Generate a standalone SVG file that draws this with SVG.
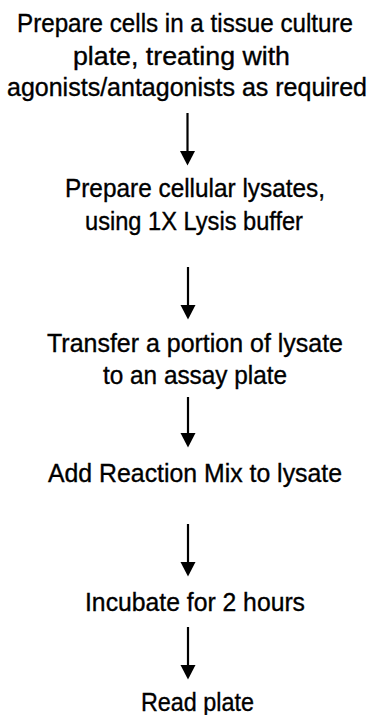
<svg xmlns="http://www.w3.org/2000/svg" width="369" height="715" viewBox="0 0 369 715">
<style>
text{font-family:"Liberation Sans",Arial,sans-serif;font-size:25px;fill:#000;stroke:#000;stroke-width:0.35;text-anchor:middle}
.sh{stroke:#000;stroke-width:2.2;fill:none}
.hd{fill:#000}
</style>
<defs>
<g id="arrowhead"><polygon class="hd" points="-7.5,0 7.5,0 0,14.5"/></g>
</defs>
<rect width="369" height="715" fill="#fff"/>
<g id="step1">
<text x="185" y="31.5" textLength="336" lengthAdjust="spacingAndGlyphs">Prepare cells in a tissue culture</text>
<text x="181.5" y="64.5" textLength="217" lengthAdjust="spacingAndGlyphs">plate, treating with</text>
<text x="187" y="96" textLength="360" lengthAdjust="spacingAndGlyphs">agonists/antagonists as required</text>
</g>
<g id="step2">
<text x="195" y="197" textLength="260" lengthAdjust="spacingAndGlyphs">Prepare cellular lysates,</text>
<text x="194" y="230" textLength="218" lengthAdjust="spacingAndGlyphs">using 1X Lysis buffer</text>
</g>
<g id="step3">
<text x="195" y="352" textLength="296" lengthAdjust="spacingAndGlyphs">Transfer a portion of lysate</text>
<text x="195" y="384" textLength="184" lengthAdjust="spacingAndGlyphs">to an assay plate</text>
</g>
<g id="step4">
<text x="195" y="482" textLength="294" lengthAdjust="spacingAndGlyphs">Add Reaction Mix to lysate</text>
</g>
<g id="step5">
<text x="195" y="611" textLength="220" lengthAdjust="spacingAndGlyphs">Incubate for 2 hours</text>
</g>
<g id="step6">
<text x="197.5" y="711" textLength="113" lengthAdjust="spacingAndGlyphs">Read plate</text>
</g>
<g id="connectors">
<line class="sh" x1="187.5" y1="113" x2="187.5" y2="152"/>
<use href="#arrowhead" x="187.5" y="151"/>
<line class="sh" x1="188" y1="267" x2="188" y2="306"/>
<use href="#arrowhead" x="188" y="305"/>
<line class="sh" x1="188" y1="397" x2="188" y2="434"/>
<use href="#arrowhead" x="188" y="433"/>
<line class="sh" x1="188" y1="524" x2="188" y2="563"/>
<use href="#arrowhead" x="188" y="562"/>
<line class="sh" x1="188" y1="627" x2="188" y2="666"/>
<use href="#arrowhead" x="188" y="665"/>
</g>
</svg>
